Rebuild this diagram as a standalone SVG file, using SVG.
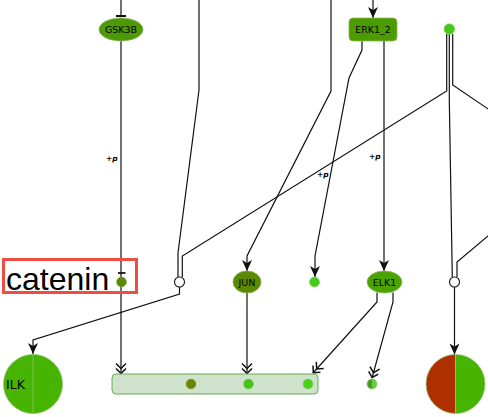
<svg xmlns="http://www.w3.org/2000/svg" width="488" height="417" viewBox="0 0 488 417">
<defs>
<style>
.e{fill:none;stroke:#111;stroke-width:1.2}
.lbl{font-family:"DejaVu Sans",sans-serif;font-size:9.5px;fill:#000;text-anchor:middle}
.p{font-family:"DejaVu Sans",sans-serif;font-size:7.5px;font-weight:bold;fill:#000}
.pc{fill:#fff;stroke:#111;stroke-width:1.1}
</style>
<marker id="arr" viewBox="-12 -6 13 12" refX="0" refY="0" markerWidth="13" markerHeight="12" markerUnits="userSpaceOnUse" orient="auto">
<path d="M0,0 L-11,-5 L-8,0 L-11,5 Z" fill="#111"/>
</marker>
<marker id="dbl" viewBox="-13 -6 14 12" refX="0" refY="0" markerWidth="14" markerHeight="12" markerUnits="userSpaceOnUse" orient="auto">
<path d="M-5.5,-5 L-0.5,0 L-5.5,5 M-10.5,-5 L-5.5,0 L-10.5,5" fill="none" stroke="#111" stroke-width="1.5"/>
</marker>
<linearGradient id="half" x1="0" y1="0" x2="1" y2="0">
<stop offset="0.5" stop-color="#4a9a2a"/><stop offset="0.5" stop-color="#5fd13a"/>
</linearGradient>
</defs>
<rect width="488" height="417" fill="#fff"/>
<g id="connectors">
<path class="e" d="M121,0 V16"/>
<path d="M116,16 H126" stroke="#111" stroke-width="2"/>
<path class="e" d="M373,0 V18" marker-end="url(#arr)"/>
<path class="e" d="M121,41 V374" marker-end="url(#dbl)"/>
<path class="e" d="M199,0 V90 L178,253 V277"/>
<path class="e" d="M446.7,34 V91 L182.3,256 V277"/>
<path class="e" d="M179.5,287 V294 L33,340 V354" marker-end="url(#arr)"/>
<path class="e" d="M331,0 V91 L247,256 V271" marker-end="url(#arr)"/>
<path class="e" d="M247,293 V374" marker-end="url(#dbl)"/>
<path class="e" d="M362,41 V50 L349,78 L315,256 V277" marker-end="url(#arr)"/>
<path class="e" d="M384,41 V271" marker-end="url(#arr)"/>
<path class="e" d="M377,292.5 V302 L313,373" marker-end="url(#dbl)"/>
<path class="e" d="M393,292.5 V302 L372,378" marker-end="url(#dbl)"/>
<path class="e" d="M449.3,34 V100 L452.3,277"/>
<path class="e" d="M452.7,34 V85 L500,117"/>
<path class="e" d="M500,226 L457,262 V277"/>
<path class="e" d="M454.5,287 V354.5" marker-end="url(#arr)"/>
<path d="M118,273 H125.5" stroke="#111" stroke-width="1.8"/>
<text class="p" x="106" y="161">+<tspan font-style="italic">p</tspan></text>
<text class="p" x="317" y="177">+<tspan font-style="italic">p</tspan></text>
<text class="p" x="369" y="159">+<tspan font-style="italic">p</tspan></text>
</g>
<g id="GSK3B">
<ellipse cx="121" cy="29.5" rx="22" ry="11.5" fill="#4f9806" stroke="#86b95a" stroke-width="0.8"/>
<text class="lbl" x="121" y="33">GSK3B</text>
</g>
<g id="ERK1_2">
<rect x="349" y="18" width="48" height="23" rx="4" fill="#4c9c00" stroke="#86b95a" stroke-width="0.8"/>
<text class="lbl" x="373" y="33">ERK1_2</text>
</g>
<g id="top_dot">
<circle cx="449.3" cy="29" r="5.3" fill="#44c81a" stroke="#7fd45a" stroke-width="0.6"/>
</g>
<g id="catenin">
<rect x="3.5" y="259.5" width="133" height="33" fill="none" stroke="#f04c46" stroke-width="3"/>
<text x="6" y="290" font-family="Liberation Sans, Arial, sans-serif" font-size="32" fill="#000">catenin</text>
<circle cx="121.5" cy="282" r="5" fill="#5b8a00" stroke="#8aaa55" stroke-width="0.6"/>
</g>
<g id="process_left">
<circle class="pc" cx="179.5" cy="282" r="5"/>
</g>
<g id="process_right">
<circle class="pc" cx="454.5" cy="282" r="5"/>
</g>
<g id="JUN">
<ellipse cx="247" cy="282" rx="14" ry="11" fill="#5b8a00" stroke="#8aaa55" stroke-width="0.8"/>
<text class="lbl" x="247" y="286">JUN</text>
</g>
<g id="dot_mid">
<circle cx="314.5" cy="282" r="5" fill="#44cc1a" stroke="#7fd45a" stroke-width="0.6"/>
</g>
<g id="ELK1">
<ellipse cx="384.5" cy="282" rx="17.5" ry="11" fill="#4ba300" stroke="#86b95a" stroke-width="0.8"/>
<text class="lbl" x="384.5" y="286">ELK1</text>
</g>
<g id="ILK">
<circle cx="33" cy="384" r="29.5" fill="#46b400" stroke="#8fbf70" stroke-width="0.8"/>
<path d="M33,354.5 V413.5" stroke="#8fbf70" stroke-width="0.8"/>
<text x="6" y="389" font-family="DejaVu Sans, sans-serif" font-size="12.5" fill="#000">ILK</text>
</g>
<g id="complex">
<rect x="112" y="374" width="206" height="20" rx="4" fill="#cfe2cc" stroke="#6aaa55" stroke-width="1"/>
<circle cx="191" cy="384" r="5" fill="#6b8400" stroke="#8aaa55" stroke-width="0.6"/>
<circle cx="248.5" cy="384" r="5" fill="#48c21a" stroke="#7fd45a" stroke-width="0.6"/>
<circle cx="308" cy="384" r="5" fill="#4cd11a" stroke="#7fd45a" stroke-width="0.6"/>
</g>
<g id="dot_bottom">
<circle cx="372" cy="384" r="5" fill="url(#half)" stroke="#8fc070" stroke-width="0.6"/>
</g>
<g id="right_circle">
<path d="M455.5,354.5 A29.5,29.5 0 0 0 455.5,413.5 Z" fill="#ae3000"/>
<path d="M455.5,354.5 A29.5,29.5 0 0 1 455.5,413.5 Z" fill="#46b400"/>
<circle cx="455.5" cy="384" r="29.5" fill="none" stroke="#8fbf70" stroke-width="0.8"/>
<path d="M455.5,354.5 V413.5" stroke="#9fbf80" stroke-width="0.8"/>
</g>
</svg>
